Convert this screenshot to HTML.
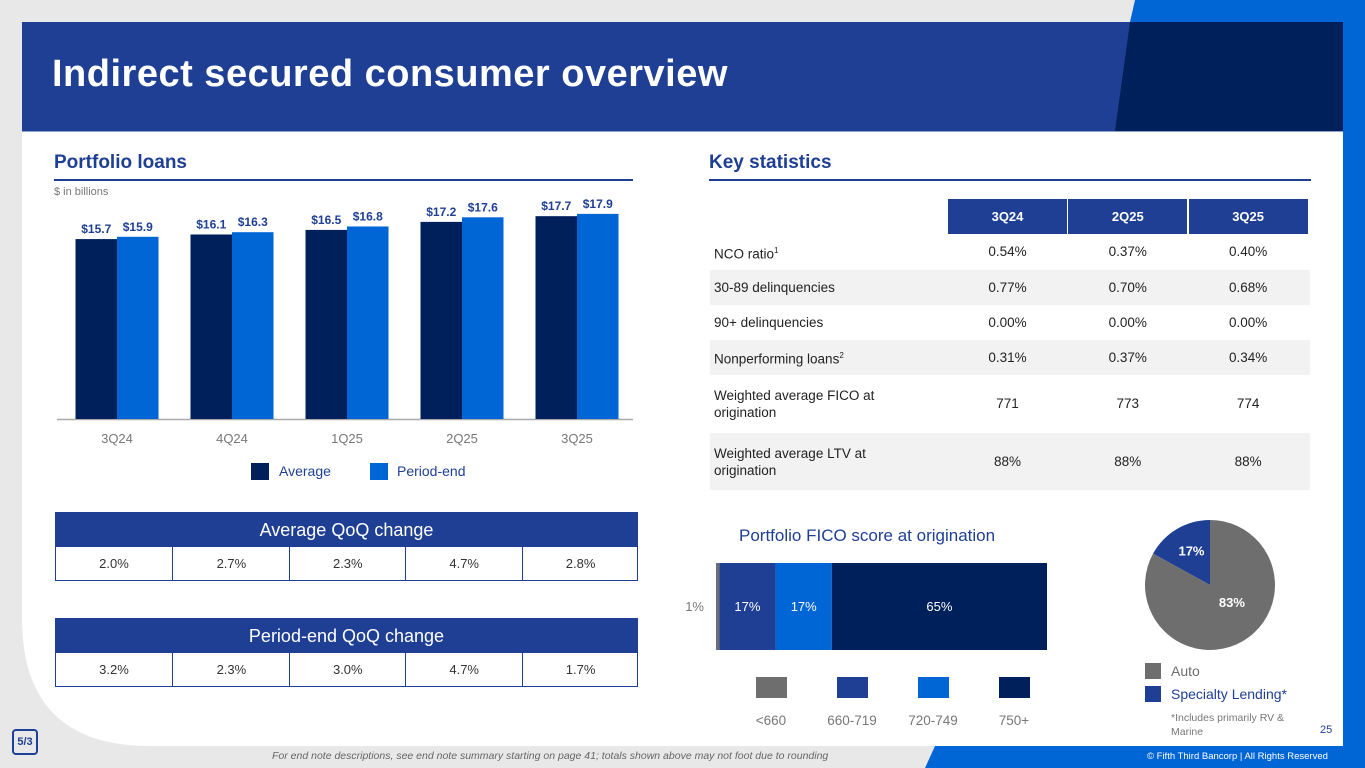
<!DOCTYPE html>
<html><head><meta charset="utf-8"><style>
body{margin:0;width:1365px;height:768px;overflow:hidden;background:#e8e8e8;font-family:"Liberation Sans",sans-serif;position:relative}
.a{position:absolute}
.t{position:absolute;white-space:nowrap}
</style></head><body>
<svg class="a" style="left:0;top:0" width="1365" height="768">
<path d="M1135,0 L1365,0 L1365,768 L925,768 L935,746 L1343,746 L1343,22 L1130,22 Z" fill="#0066d6"/>
<path d="M22,22 L1343,22 L1343,746 L150,746 Q22,746 22,618 Z" fill="#fff"/>
<rect x="22" y="22" width="1321" height="109" fill="#1e3f94"/>
<path d="M1130,22 L1343,22 L1343,131 L1115,131 Z" fill="#00205b"/>
<line x1="22" y1="131.5" x2="1343" y2="131.5" stroke="#8fa0c8" stroke-width="1"/>
</svg>
<div class="t" style="left:52px;top:53px;font-size:38px;font-weight:bold;color:#fff;letter-spacing:0.5px">Indirect secured consumer overview</div>
<div class="t" style="left:54px;top:152px;font-size:19px;font-weight:bold;color:#1e3f94">Portfolio loans</div>
<div class="a" style="left:54px;top:179px;width:579px;height:2px;background:#1e3f94"></div>
<div class="t" style="left:54px;top:186px;font-size:11px;color:#777">$ in billions</div>
<div class="t" style="left:709px;top:152px;font-size:19px;font-weight:bold;color:#1e3f94">Key statistics</div>
<div class="a" style="left:709px;top:179px;width:602px;height:2px;background:#1e3f94"></div>

<svg id="bars" class="a" style="left:0;top:0" width="660" height="490"></svg>
<div class="a" style="left:251px;top:463px;width:18px;height:17px;background:#00205b"></div>
<div class="t" style="left:279px;top:463px;font-size:14px;color:#1e3f94">Average</div>
<div class="a" style="left:370px;top:463px;width:18px;height:17px;background:#0066d6"></div>
<div class="t" style="left:397px;top:463px;font-size:14px;color:#1e3f94">Period-end</div>

<div id="tables"></div>
<div id="stats"></div>

<div class="t" style="left:739px;top:526px;font-size:17px;color:#1e3f94">Portfolio FICO score at origination</div>
<svg id="fico" class="a" style="left:650px;top:540px" width="420" height="200"></svg>
<svg id="pie" class="a" style="left:1130px;top:505px" width="160" height="160"></svg>
<div class="a" style="left:1145px;top:663px;width:16px;height:16px;background:#6e6e6e"></div>
<div class="t" style="left:1171px;top:663px;font-size:14px;color:#6e6e6e">Auto</div>
<div class="a" style="left:1145px;top:686px;width:16px;height:16px;background:#1e3f94"></div>
<div class="t" style="left:1171px;top:686px;font-size:14px;color:#1e3f94">Specialty Lending*</div>
<div class="t" style="left:1171px;top:711px;font-size:10.5px;color:#777;line-height:14px">*Includes primarily RV &amp;<br>Marine</div>
<div class="t" style="left:1320px;top:724px;font-size:11px;color:#1e3f94">25</div>
<div class="a" style="left:12px;top:729px;width:26px;height:26px;border:2px solid #1e3f94;border-radius:4px;box-sizing:border-box;font-size:11px;font-weight:bold;color:#1e3f94;text-align:center;line-height:22px">5/3</div>
<div class="t" style="left:272px;top:750px;font-size:10.5px;font-style:italic;color:#666">For end note descriptions, see end note summary starting on page 41; totals shown above may not foot due to rounding</div>
<div class="t" style="left:1147px;top:751px;font-size:9.5px;color:#fff">© Fifth Third Bancorp | All Rights Reserved</div>

<script>
const categories=["3Q24","4Q24","1Q25","2Q25","3Q25"];
const averageValues=[15.7,16.1,16.5,17.2,17.7];
const periodEndValues=[15.9,16.3,16.8,17.6,17.9];
const avgChange=["2.0%","2.7%","2.3%","4.7%","2.8%"];
const peChange=["3.2%","2.3%","3.0%","4.7%","1.7%"];
const statCols=["3Q24","2Q25","3Q25"];
const statLabels=["NCO ratio<sup style='font-size:8px'>1</sup>","30-89 delinquencies","90+ delinquencies","Nonperforming loans<sup style='font-size:8px'>2</sup>","Weighted average FICO at<br>origination","Weighted average LTV at<br>origination"];
const statValues=[["0.54%","0.37%","0.40%"],["0.77%","0.70%","0.68%"],["0.00%","0.00%","0.00%"],["0.31%","0.37%","0.34%"],["771","773","774"],["88%","88%","88%"]];
const ficoLabels=["<660","660-719","720-749","750+"];
const ficoValues=[1,17,17,65];
const pieLabels=["Auto","Specialty Lending"];
const pieValues=[83,17];

const NS="http://www.w3.org/2000/svg";
function mk(p,tag,attrs,txt){const e=document.createElementNS(NS,tag);for(const k in attrs)e.setAttribute(k,attrs[k]);if(txt!=null)e.textContent=txt;p.appendChild(e);return e;}

const svg=document.getElementById('bars');
const base=419, k=11.46, x0=117, step=115, bw=41.5;
const y=v=>base-v*k;
const xc=i=>x0+i*step;
mk(svg,'line',{x1:57,x2:633,y1:base+0.5,y2:base+0.5,stroke:'#aaa','stroke-width':1.5});
categories.forEach((c,i)=>{
  let r=mk(svg,'rect',{x:xc(i)-bw,y:y(averageValues[i]),width:bw,height:averageValues[i]*k,fill:'#00205b'});
  
  
  let r2=mk(svg,'rect',{x:xc(i),y:y(periodEndValues[i]),width:bw,height:periodEndValues[i]*k,fill:'#0066d6'});
  
  
  mk(svg,'text',{x:xc(i)-bw/2,y:y(averageValues[i])-6,'text-anchor':'middle','font-size':12,'font-weight':'bold',fill:'#1e3f94'},'$'+averageValues[i].toFixed(1));
  mk(svg,'text',{x:xc(i)+bw/2,y:y(periodEndValues[i])-6,'text-anchor':'middle','font-size':12,'font-weight':'bold',fill:'#1e3f94'},'$'+periodEndValues[i].toFixed(1));
  let t=mk(svg,'text',{x:xc(i),y:443,'text-anchor':'middle','font-size':13,fill:'#777'},c);
  
  
});

function changeTable(top,title,vals,name){
  let h='<div class="a" style="left:55px;top:'+top+'px;width:583px;height:69px;border:1px solid #1e3f94;box-sizing:border-box">';
  h+='<div class="a" style="left:0;top:0;width:581px;height:34px;background:#1e3f94;color:#fff;font-size:18px;text-align:center;line-height:34px">'+title+'</div>';
  vals.forEach((v,i)=>{h+='<div class="a" style="left:'+(i*116.4)+'px;top:34px;width:116px;height:33px;'+(i?'border-left:1px solid #1e3f94;':'')+'text-align:center;line-height:33px;font-size:13px;color:#333">'+v+'</div>';});
  return h+'</div>';
}
document.getElementById('tables').innerHTML=changeTable(512,'Average QoQ change',avgChange,'average-qoq-table')+changeTable(618,'Period-end QoQ change',peChange,'period-end-qoq-table');

let s='';
statCols.forEach((c,i)=>{s+='<div class="a" style="left:'+(948+i*120.3)+'px;top:199px;width:119px;height:35px;background:#1e3f94;color:#fff;font-weight:bold;font-size:13px;text-align:center;line-height:35px">'+c+'</div>';});
const rowTops=[234,270,305,340,375,433], rowH=[36,35,35,35,58,57];
statLabels.forEach((l,r)=>{
  s+='<div class="a" style="left:710px;top:'+rowTops[r]+'px;width:600px;height:'+rowH[r]+'px;background:'+(r%2?'#f2f2f2':'#fff')+'"></div>';
  s+='<div class="a" style="left:714px;top:'+rowTops[r]+'px;height:'+rowH[r]+'px;display:flex;align-items:center;font-size:13.5px;color:#222;line-height:17px"><span>'+l+'</span></div>';
  statValues[r].forEach((v,i)=>{s+='<div class="a" style="left:'+(948+i*120.3)+'px;top:'+rowTops[r]+'px;width:119px;height:'+rowH[r]+'px;line-height:'+rowH[r]+'px;text-align:center;font-size:13.5px;color:#222">'+v+'</div>';});
});
document.getElementById('stats').innerHTML=s;

const f=document.getElementById('fico');
const fcol=['#6e6e6e','#1e3f94','#0066d6','#00205b'];
const fx0=66, fw=331/ficoValues.reduce((a,b)=>a+b,0);
let acc=0;
ficoValues.forEach((v,i)=>{
  let r=mk(f,'rect',{x:fx0+acc*fw,y:23,width:v*fw,height:87,fill:fcol[i]});
  
  
  if(i==0) mk(f,'text',{x:fx0-12,y:71,'text-anchor':'end','font-size':13,fill:'#777'},v+'%');
  else mk(f,'text',{x:fx0+(acc+v/2)*fw,y:71,'text-anchor':'middle','font-size':13,fill:'#fff'},v+'%');
  acc+=v;
  mk(f,'rect',{x:106+i*81,y:137,width:31,height:21,fill:fcol[i]});
  mk(f,'text',{x:121+i*81,y:185,'text-anchor':'middle','font-size':13.5,fill:'#777'},ficoLabels[i]);
});

const p=document.getElementById('pie');
const cx=80,cy=80,R=65, pcol=['#6e6e6e','#1e3f94'];
const tot=pieValues.reduce((a,b)=>a+b,0);
const segs=[{v:pieValues[1],c:pcol[1],n:pieLabels[1]},{v:pieValues[0],c:pcol[0],n:pieLabels[0]}];
let ang=-Math.PI/2-pieValues[1]/tot*2*Math.PI;
segs.forEach(sg=>{
  const a2=ang+sg.v/tot*2*Math.PI;
  const large=(a2-ang)>Math.PI?1:0;
  let pa=mk(p,'path',{d:`M${cx},${cy} L${cx+R*Math.cos(ang)},${cy+R*Math.sin(ang)} A${R},${R} 0 ${large} 1 ${cx+R*Math.cos(a2)},${cy+R*Math.sin(a2)} Z`,fill:sg.c});
  
  
  const mid=(ang+a2)/2, rr=sg.v<50?R*0.62:R*0.3;
  mk(p,'text',{x:cx+rr*Math.cos(mid)+(sg.v<50?2:12),y:cy+rr*Math.sin(mid)+5,'text-anchor':'middle','font-size':13,'font-weight':'bold',fill:'#fff'},sg.v+'%');
  ang=a2;
});
</script>
</body></html>
